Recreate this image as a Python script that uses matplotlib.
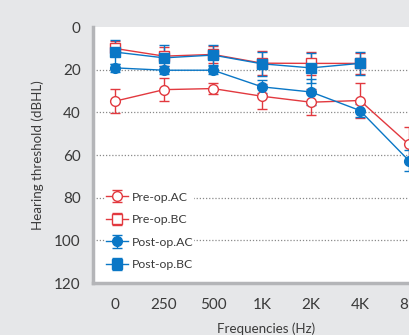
import matplotlib
matplotlib.use("Agg")
import matplotlib.pyplot as plt
import numpy as np

plt.rcParams["font.family"] = ["Lato", "DejaVu Sans"]

RED, BLUE, BG, SPINE, TXT = "#e2393f", "#0a77c6", "#e6e7e9", "#b4b5b8", "#3a3a3a"

freqs = ["0", "250", "500", "1K", "2K", "4K", "8K"]

pre_ac = [34.7, 29.3, 28.8, 32.4, 35.2, 34.4, 55.0]
pre_ac_err = [5.6, 5.5, 2.5, 5.8, 6.0, 8.0, 8.0]
pre_bc = [10.0, 13.6, 12.8, 16.9, 17.0, 17.0]
pre_bc_err = [3.5, 4.5, 4.0, 5.5, 5.5, 5.0]
post_ac = [19.1, 20.2, 20.2, 28.0, 30.4, 39.1, 62.6]
post_ac_err = [2.0, 2.0, 2.0, 3.0, 6.0, 3.0, 5.0]
post_bc = [11.7, 14.4, 13.1, 17.2, 19.1, 17.0]
post_bc_err = [5.5, 5.8, 4.5, 5.5, 7.0, 5.5]

fig = plt.figure(figsize=(4.10, 3.35), dpi=100, facecolor=BG)
ax = fig.add_axes([0.227, 0.155, 0.842, 0.764])
ax.set_facecolor("white")

x = np.arange(len(freqs))
kw = dict(lw=1.0, elinewidth=1.0, capsize=3.5, capthick=1.0, ms=7)
ax.errorbar(x, pre_ac, yerr=pre_ac_err, color=RED, marker="o", mfc="white",
            mec=RED, label="Pre-op.AC", **kw)
ax.errorbar(x[:len(pre_bc)], pre_bc, yerr=pre_bc_err, color=RED, marker="s",
            mfc="white", mec=RED, label="Pre-op.BC", **kw)
ax.errorbar(x, post_ac, yerr=post_ac_err, color=BLUE, marker="o", mfc=BLUE,
            mec=BLUE, label="Post-op.AC", **kw)
ax.errorbar(x[:len(post_bc)], post_bc, yerr=post_bc_err, color=BLUE, marker="s",
            mfc=BLUE, mec=BLUE, label="Post-op.BC", **kw)

ax.set_ylim(120, 0)
ax.set_xlim(-0.45, 6.6)
ax.set_yticks([0, 20, 40, 60, 80, 100, 120])
ax.set_xticks(x)
ax.set_xticklabels(freqs)
for yv in [20, 40, 60, 80, 100]:
    ax.axhline(yv, color="#8a8a8a", lw=0.9, ls=(0, (1, 1.5)), zorder=0)

for s in ["top", "right"]:
    ax.spines[s].set_visible(False)
for s in ["left", "bottom"]:
    ax.spines[s].set_color(SPINE)
    ax.spines[s].set_linewidth(2.5)
ax.tick_params(length=0, labelsize=11, colors=TXT, pad=9)
ax.tick_params(axis="x", pad=11)

ax.set_ylabel("Hearing threshold (dBHL)", fontsize=9.6, color=TXT, labelpad=7)
ax.set_xlabel("Frequencies (Hz)", fontsize=9.6, color=TXT, labelpad=7)

leg = ax.legend(loc="lower left", bbox_to_anchor=(0.035, 0.045), frameon=True,
                fontsize=8.8, handlelength=1.75, handletextpad=0.3,
                labelspacing=0.95, borderpad=0.1, borderaxespad=0.0)
leg.get_frame().set_facecolor("white")
leg.get_frame().set_edgecolor("none")
leg.get_frame().set_alpha(1)
for t in leg.get_texts():
    t.set_color(TXT)

fig.savefig("out.png", dpi=100, facecolor=BG)
